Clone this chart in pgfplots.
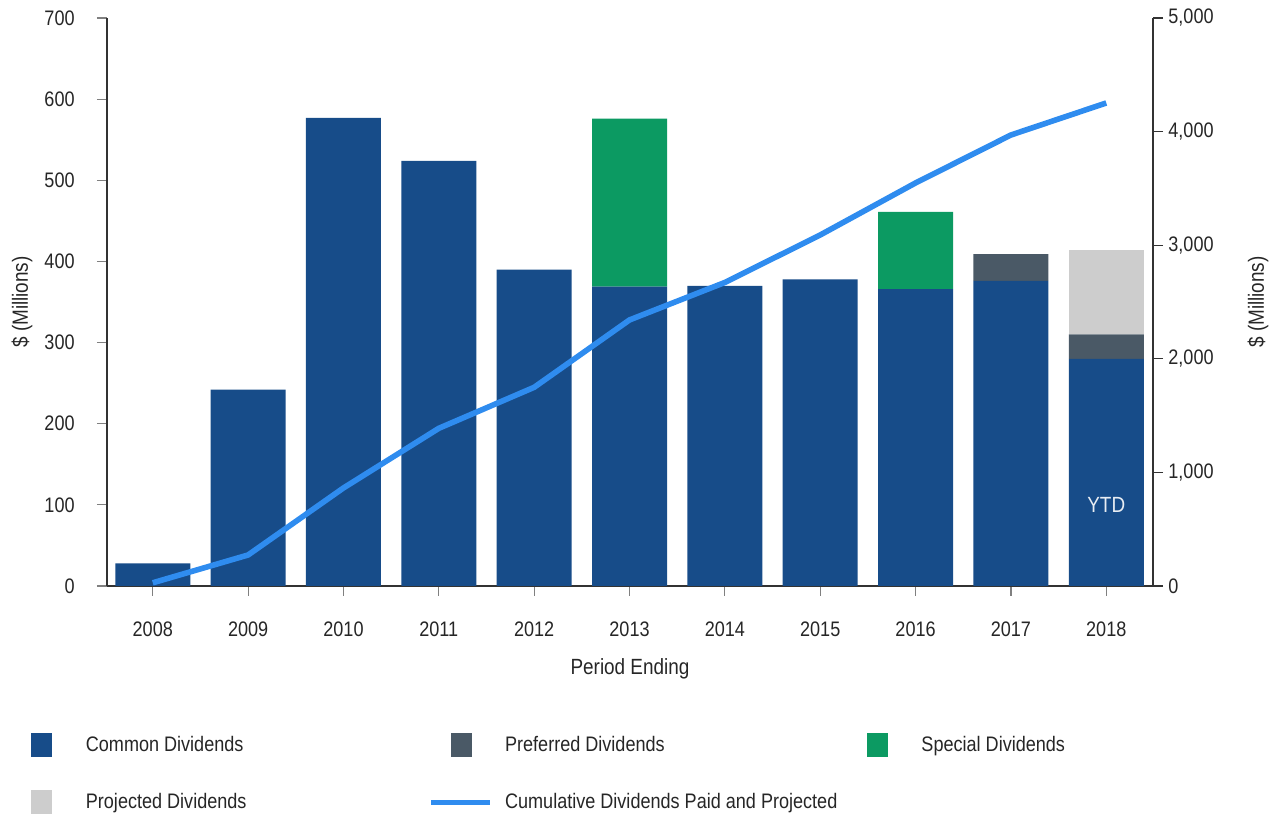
\documentclass[border=0pt]{standalone}
\usepackage{fontspec}
\setmainfont{Liberation Sans}[FakeStretch=0.86]
\usepackage{pgfplots}
\pgfplotsset{compat=1.18}

\definecolor{cCommon}{HTML}{174C89}
\definecolor{cPref}{HTML}{4A5966}
\definecolor{cSpecial}{HTML}{0C9A62}
\definecolor{cProj}{HTML}{CDCDCD}
\definecolor{cLine}{HTML}{2F8CEF}
\definecolor{cText}{HTML}{262626}
\definecolor{cAxis}{HTML}{333333}

\newcommand{\chartfont}{\fontsize{10.5}{12}\selectfont}

\pgfplotsset{
  barleg/.style={legend image code/.code={
      \path[draw=none, fill=none] (-15pt,-14.25pt) rectangle (22pt,14.25pt);
      \fill[##1,draw=none] (-5.25pt,-6pt) rectangle (5.25pt,6pt);}},
  lineleg/.style={legend image code/.code={
      \path[draw=none, fill=none] (-15pt,-14.25pt) rectangle (22pt,14.25pt);
      \draw[##1] (-15pt,0pt) -- (14.5pt,0pt);}},
  base/.style={
    width=523pt, height=284pt, scale only axis,
    at={(0,0)}, anchor=south west,
    xmin=-0.48, xmax=10.49,
    tick align=outside, major tick length=5pt,
    /pgf/number format/assume math mode=true,
    tick label style={font=\chartfont, text=cText},
    label style={font=\fontsize{11}{13}\selectfont, text=cText},
  },
}

\begin{document}
\chartfont
\begin{tikzpicture}
\path[use as bounding box] (-53.5pt,-115.5pt) rectangle (584pt,293pt);

\begin{axis}[base,
  ybar stacked, bar width=37.5pt,
  ymin=0, ymax=700, ytick={0,100,...,700},
  xtick={0,1,...,10},
  xticklabels={2008,2009,2010,2011,2012,2013,2014,2015,2016,2017,2018},
  axis x line*=bottom, axis y line*=left,
  x axis line style={-, cAxis, line width=1pt},
  y axis line style={-, cAxis, line width=0.75pt},
  xtick style={gray, line width=0.6pt},
  ytick style={gray, line width=0.6pt},
  xticklabel style={inner sep=0pt, anchor=north, yshift=-12.5pt},
  yticklabel style={inner sep=0pt, anchor=east, xshift=-11pt},
  xlabel={Period Ending},
  xlabel style={at={([yshift=-41.5pt]axis description cs:0.5,0)}, anchor=center},
  ylabel={\$ (Millions)},
  ylabel style={at={([xshift=-42.5pt]axis description cs:0,0.5)}, anchor=center, rotate=0},
  legend columns=3,
  legend cell align=left,
  legend style={draw=none, fill=none, inner sep=0pt, row sep=0pt,
    column sep=0pt, font=\chartfont, text=cText,
    nodes={inner sep=0pt},
    at={(0,0)}, anchor=north west, xshift=-47.75pt, yshift=-65.25pt},
]
\addplot[fill=cCommon, draw=none, barleg] coordinates {
  (0,28) (1,242) (2,577) (3,524) (4,390) (5,369) (6,370) (7,378) (8,366) (9,376) (10,280)};
\addlegendentry{\makebox[171.2pt][l]{Common Dividends}}
\addplot[fill=cPref, draw=none, barleg] coordinates {
  (0,0) (1,0) (2,0) (3,0) (4,0) (5,0) (6,0) (7,0) (8,0) (9,33) (10,30)};
\addlegendentry{\makebox[171.2pt][l]{Preferred Dividends}}
\addplot[fill=cSpecial, draw=none, barleg] coordinates {
  (0,0) (1,0) (2,0) (3,0) (4,0) (5,207) (6,0) (7,0) (8,95) (9,0) (10,0)};
\addlegendentry{\makebox[171.2pt][l]{Special Dividends}}
\addplot[fill=cProj, draw=none, barleg] coordinates {
  (0,0) (1,0) (2,0) (3,0) (4,0) (5,0) (6,0) (7,0) (8,0) (9,0) (10,104)};
\addlegendentry{\makebox[171.2pt][l]{Projected Dividends}}
\addlegendimage{cLine, line width=2.8pt, lineleg}
\addlegendentry{\makebox[171.2pt][l]{Cumulative Dividends Paid and Projected}}
\end{axis}

\begin{axis}[base,
  ymin=0, ymax=5000, ytick={0,1000,...,5000},
  axis x line=none, axis y line*=right,
  y axis line style={-, cAxis, line width=0.75pt},
  ytick style={cAxis, line width=0.6pt},
  yticklabel style={inner sep=0pt, anchor=west, xshift=2.5pt,
    /pgf/number format/1000 sep={,}},
  ylabel={\$ (Millions)},
  ylabel style={at={([xshift=52.5pt]axis description cs:1,0.5)}, anchor=center, rotate=0},
]
\addplot[cLine, line width=2.8pt, line join=round, no marks] coordinates {
  (0,28) (1,273) (2,863) (3,1388) (4,1749) (5,2342) (6,2672) (7,3090) (8,3548) (9,3970) (10,4252)};
% YTD note inside the 2018 bar (100 on the left scale = 714 on this one)
\node[text=white!90!cCommon, font=\fontsize{11}{13}\selectfont] at (axis cs:10,714) {YTD};
\end{axis}
\end{tikzpicture}
\end{document}
